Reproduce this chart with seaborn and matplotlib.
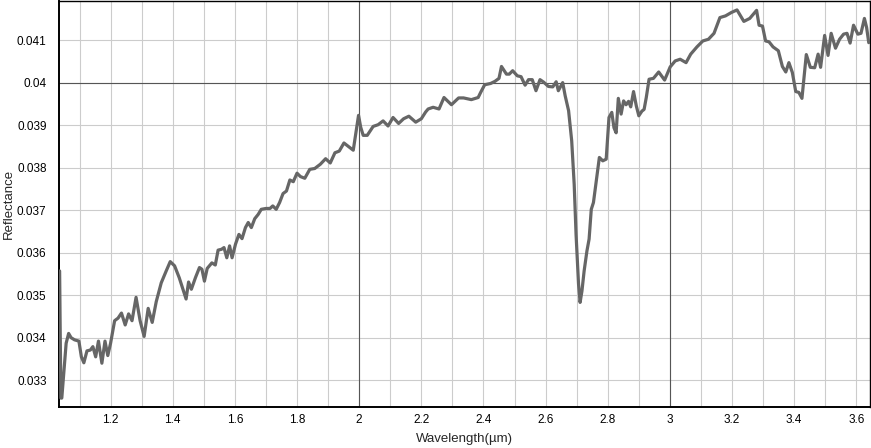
import numpy as np
import pandas as pd
import seaborn as sns
import matplotlib.pyplot as plt
from matplotlib.ticker import MultipleLocator, FuncFormatter

# Spectrum (wavelength in um, reflectance)
wavelength = [
    1.036, 1.040, 1.043, 1.050, 1.057, 1.065, 1.073, 1.084, 1.098, 1.106,
    1.114, 1.124, 1.135, 1.143, 1.152, 1.161, 1.172, 1.182, 1.191, 1.200,
    1.213, 1.224, 1.235, 1.247, 1.258, 1.269, 1.282, 1.295, 1.308, 1.321,
    1.334, 1.347, 1.363, 1.379, 1.392, 1.406, 1.421, 1.443, 1.451, 1.460,
    1.473, 1.486, 1.494, 1.502, 1.511, 1.526, 1.537, 1.546, 1.557, 1.565,
    1.574, 1.583, 1.591, 1.602, 1.613, 1.623, 1.634, 1.643, 1.653, 1.664,
    1.675, 1.685, 1.700, 1.713, 1.722, 1.733, 1.744, 1.755, 1.766, 1.777,
    1.788, 1.800, 1.811, 1.825, 1.841, 1.857, 1.875, 1.892, 1.907, 1.922,
    1.936, 1.951, 1.965, 1.981, 1.989, 1.998, 2.005, 2.013, 2.026, 2.045,
    2.061, 2.077, 2.093, 2.109, 2.127, 2.143, 2.160, 2.182, 2.200, 2.214,
    2.222, 2.238, 2.257, 2.273, 2.297, 2.320, 2.336, 2.361, 2.383, 2.391,
    2.404, 2.423, 2.437, 2.450, 2.458, 2.474, 2.483, 2.494, 2.509, 2.521,
    2.534, 2.545, 2.557, 2.569, 2.582, 2.594, 2.609, 2.623, 2.634, 2.641,
    2.655, 2.663, 2.674, 2.684, 2.692, 2.698, 2.706, 2.711, 2.717, 2.724,
    2.733, 2.740, 2.747, 2.754, 2.763, 2.773, 2.784, 2.795, 2.804, 2.813,
    2.820, 2.827, 2.834, 2.843, 2.851, 2.859, 2.867, 2.874, 2.883, 2.892,
    2.900, 2.910, 2.917, 2.924, 2.933, 2.947, 2.964, 2.983, 3.001, 3.017,
    3.033, 3.052, 3.067, 3.087, 3.106, 3.124, 3.142, 3.161, 3.179, 3.198,
    3.216, 3.238, 3.257, 3.279, 3.287, 3.298, 3.308, 3.319, 3.332, 3.349,
    3.362, 3.373, 3.383, 3.394, 3.405, 3.415, 3.425, 3.439, 3.452, 3.466,
    3.477, 3.485, 3.498, 3.509, 3.519, 3.533, 3.546, 3.559, 3.570, 3.580,
    3.591, 3.605, 3.615, 3.626, 3.633, 3.640,
]
reflectance = [
    0.03557, 0.03258, 0.03258, 0.03324, 0.03387, 0.03410, 0.03400, 0.03395, 0.03392, 0.03355,
    0.03341, 0.03369, 0.03371, 0.03379, 0.03355, 0.03392, 0.03340, 0.03392, 0.03358, 0.03387,
    0.03440, 0.03446, 0.03458, 0.03430, 0.03456, 0.03440, 0.03495, 0.03440, 0.03403, 0.03469,
    0.03436, 0.03485, 0.03529, 0.03557, 0.03579, 0.03569, 0.03541, 0.03491, 0.03531, 0.03514,
    0.03541, 0.03565, 0.03561, 0.03533, 0.03563, 0.03576, 0.03571, 0.03606, 0.03608, 0.03612,
    0.03588, 0.03616, 0.03588, 0.03620, 0.03643, 0.03633, 0.03659, 0.03671, 0.03659, 0.03680,
    0.03690, 0.03702, 0.03704, 0.03704, 0.03710, 0.03702, 0.03718, 0.03739, 0.03745, 0.03771,
    0.03767, 0.03787, 0.03779, 0.03775, 0.03796, 0.03798, 0.03808, 0.03821, 0.03811, 0.03835,
    0.03839, 0.03858, 0.03850, 0.03841, 0.03880, 0.03923, 0.03895, 0.03876, 0.03876, 0.03897,
    0.03901, 0.03910, 0.03898, 0.03918, 0.03904, 0.03915, 0.03921, 0.03907, 0.03915, 0.03931,
    0.03938, 0.03942, 0.03938, 0.03965, 0.03948, 0.03964, 0.03964, 0.03960, 0.03965, 0.03977,
    0.03995, 0.03998, 0.04003, 0.04010, 0.04038, 0.04020, 0.04020, 0.04028, 0.04016, 0.04014,
    0.03994, 0.04007, 0.04007, 0.03981, 0.04007, 0.04001, 0.03991, 0.03990, 0.04002, 0.03981,
    0.04000, 0.03969, 0.03934, 0.03863, 0.03761, 0.03643, 0.03526, 0.03483, 0.03510, 0.03557,
    0.03604, 0.03632, 0.03702, 0.03718, 0.03769, 0.03824, 0.03816, 0.03820, 0.03918, 0.03930,
    0.03894, 0.03882, 0.03963, 0.03926, 0.03957, 0.03948, 0.03956, 0.03943, 0.03979, 0.03945,
    0.03922, 0.03933, 0.03937, 0.03965, 0.04008, 0.04010, 0.04025, 0.04006, 0.04037, 0.04051,
    0.04055, 0.04047, 0.04067, 0.04084, 0.04098, 0.04102, 0.04116, 0.04153, 0.04157, 0.04165,
    0.04171, 0.04144, 0.04151, 0.04170, 0.04135, 0.04133, 0.04098, 0.04096, 0.04084, 0.04075,
    0.04038, 0.04025, 0.04047, 0.04024, 0.03979, 0.03977, 0.03963, 0.04066, 0.04036, 0.04035,
    0.04067, 0.04036, 0.04111, 0.04064, 0.04116, 0.04081, 0.04102, 0.04114, 0.04116, 0.04093,
    0.04135, 0.04114, 0.04116, 0.04151, 0.04130, 0.04094,
]


def main():
    df = pd.DataFrame({"Wavelength": wavelength, "Reflectance": reflectance})

    sns.set_style("white")
    plt.rcParams["font.family"] = ["Liberation Sans", "DejaVu Sans"]

    fig = plt.figure(figsize=(8.71, 4.48), dpi=100)
    ax = fig.add_axes([59 / 871, 1 - 407 / 448, 811 / 871, 406 / 448])

    # griglia chiara ogni 0.1 / 0.001, linee scure su 2, 3 e 0.04
    ax.xaxis.set_major_locator(MultipleLocator(0.2))
    ax.xaxis.set_minor_locator(MultipleLocator(0.1))
    ax.yaxis.set_major_locator(MultipleLocator(0.001))
    ax.grid(True, which="both", color="#cccccc", lw=0.8)
    ax.set_axisbelow(True)
    for xv in (2, 3):
        ax.axvline(xv, color="#555555", lw=0.8, zorder=1)
    ax.axhline(0.04, color="#555555", lw=0.8, zorder=1)

    sns.lineplot(data=df, x="Wavelength", y="Reflectance", sort=False,
                 estimator=None, color="#666666", lw=2.3, ax=ax, zorder=3)

    ax.set_xlim(1.034, 3.644)
    ax.set_ylim(0.03237, 0.04192)
    fmt = FuncFormatter(lambda v, p: f"{v:g}")
    ax.xaxis.set_major_formatter(fmt)
    ax.yaxis.set_major_formatter(fmt)
    ax.tick_params(axis="both", which="both", length=0, labelsize=8.5, colors="black")
    ax.tick_params(axis="x", pad=5)
    ax.tick_params(axis="y", pad=9)

    for side in ("left", "bottom", "top", "right"):
        ax.spines[side].set_color("black")
        ax.spines[side].set_linewidth(1.0)
    ax.spines["left"].set_linewidth(1.4)
    ax.spines["bottom"].set_linewidth(1.4)

    ax.set_xlabel("Wavelength(µm)", fontsize=9.5)
    ax.set_ylabel("Reflectance", fontsize=9.5)
    ax.xaxis.set_label_coords(0.5, -0.064)
    ax.yaxis.set_label_coords(-0.055, 0.5)

    fig.savefig("out.png", dpi=100)
    plt.close(fig)


if __name__ == "__main__":
    main()
